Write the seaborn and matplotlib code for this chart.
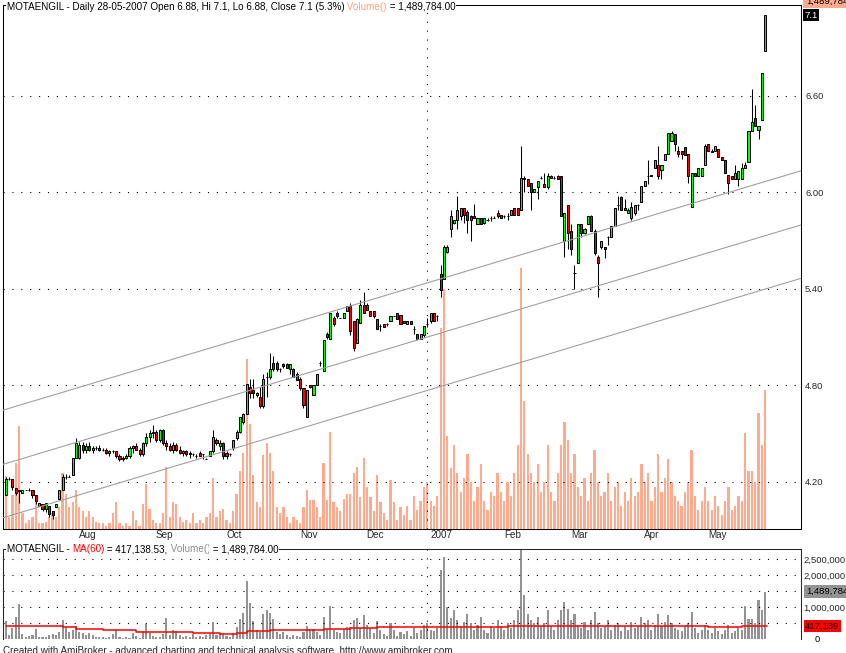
import matplotlib
matplotlib.use("Agg")
import matplotlib.pyplot as plt
import seaborn as sns
import numpy as np

# ---------------- data ----------------
opens = [
 4.12,4.22,4.22,4.16,4.15,4.13,4.15,4.15,4.15,4.12,4.05,4.06,4.03,4.05,4.02,4.04,4.09,4.15,4.23,4.23,4.24,
 4.35,4.35,4.43,4.40,4.42,4.40,4.41,4.41,4.40,4.40,4.38,4.39,4.39,4.36,4.34,4.35,4.36,4.41,4.42,4.40,4.37,4.44,4.48,
 4.50,4.51,4.46,4.52,4.44,4.42,4.40,4.43,4.40,4.38,4.39,4.37,4.37,4.36,4.38,4.37,4.34,4.36,4.39,4.46,4.42,
 4.44,4.38,4.37,4.41,4.47,4.51,4.57,4.62,4.79,4.77,4.74,4.73,4.67,4.85,4.85,4.94,4.94,4.90,4.93,4.93,4.90,4.90,
 4.87,4.84,4.78,4.60,4.80,4.74,4.80,4.94,4.89,5.12,5.09,5.22,5.25,5.22,5.22,5.26,5.29,5.20,5.06,5.19,
 5.30,5.30,5.26,5.26,5.21,5.17,5.18,5.18,5.20,5.23,5.25,5.24,5.20,5.18,5.20,5.15,5.12,5.09,5.11,
 5.18,5.20,5.25,5.23,5.49,5.46,5.63,5.77,5.81,5.83,5.85,5.90,5.88,5.85,5.85,5.80,5.84,5.81,5.83,5.84,5.84,5.87,
 5.86,5.85,5.85,5.86,5.90,5.90,5.89,6.09,6.08,6.06,6.00,6.03,6.09,6.05,6.03,6.10,6.09,6.10,6.10,5.70,
 5.92,5.76,5.50,5.56,5.80,5.75,5.80,5.85,5.76,5.60,5.66,5.66,5.72,5.72,5.79,5.92,5.97,5.90,5.87,5.84,5.87,5.92,
 5.94,6.04,6.10,6.11,6.15,6.17,6.14,6.20,6.24,6.32,6.36,6.26,6.26,6.28,6.24,5.91,6.12,6.10,6.10,
 6.17,6.30,6.26,6.26,6.27,6.22,6.20,6.11,6.10,6.08,6.08,6.08,6.15,6.19,6.38,6.46,6.39,6.45,6.88]
highs = [
 4.23,4.23,4.22,4.16,4.15,4.15,4.15,4.16,4.15,4.12,4.07,4.06,4.07,4.05,4.02,4.06,4.15,4.25,4.25,4.24,4.35,
 4.47,4.45,4.45,4.44,4.45,4.42,4.42,4.43,4.41,4.41,4.40,4.40,4.39,4.37,4.36,4.37,4.42,4.43,4.44,4.41,4.45,4.50,4.52,
 4.55,4.52,4.53,4.53,4.46,4.44,4.45,4.44,4.42,4.40,4.40,4.39,4.38,4.37,4.39,4.37,4.35,4.39,4.52,4.47,4.46,
 4.45,4.39,4.38,4.46,4.52,4.60,4.63,4.81,4.84,4.84,4.76,4.79,4.87,4.88,5.00,4.98,4.95,4.91,4.94,4.94,4.93,4.91,
 4.88,4.85,4.78,4.77,4.80,4.80,4.87,4.95,5.08,5.13,5.25,5.23,5.26,5.22,5.25,5.29,5.31,5.20,5.22,5.33,
 5.38,5.31,5.26,5.26,5.21,5.18,5.18,5.19,5.23,5.23,5.25,5.24,5.20,5.20,5.20,5.17,5.12,5.12,5.17,
 5.22,5.25,5.25,5.24,5.55,5.67,5.67,5.89,5.83,5.98,5.90,5.90,5.89,5.86,5.93,5.84,5.84,5.84,5.84,5.85,5.85,5.89,
 5.86,5.86,5.87,5.89,5.90,5.90,6.29,6.10,6.08,6.06,6.02,6.07,6.10,6.12,6.12,6.11,6.10,6.11,6.10,5.87,
 5.92,5.80,5.55,5.80,5.80,5.78,5.85,5.86,5.77,5.61,5.70,5.66,5.73,5.79,5.90,5.98,5.98,5.96,5.90,5.94,5.92,5.93,
 6.04,6.07,6.20,6.11,6.20,6.29,6.17,6.24,6.37,6.38,6.36,6.29,6.26,6.28,6.24,6.12,6.12,6.15,6.15,
 6.30,6.30,6.27,6.29,6.27,6.22,6.20,6.11,6.10,6.17,6.13,6.18,6.19,6.38,6.64,6.54,6.41,6.74,7.10]
lows = [
 4.12,4.21,4.15,4.12,4.07,4.13,4.15,4.14,4.10,4.06,4.05,4.02,4.01,3.98,3.97,4.04,4.09,4.15,4.22,4.23,4.24,
 4.35,4.34,4.38,4.38,4.39,4.38,4.40,4.39,4.39,4.37,4.36,4.38,4.35,4.33,4.33,4.34,4.35,4.38,4.40,4.36,4.36,4.42,4.45,
 4.47,4.45,4.45,4.43,4.40,4.39,4.38,4.39,4.37,4.36,4.36,4.35,4.36,4.35,4.36,4.34,4.34,4.36,4.38,4.43,4.40,
 4.34,4.34,4.36,4.40,4.46,4.50,4.56,4.62,4.72,4.72,4.73,4.66,4.66,4.73,4.84,4.89,4.89,4.88,4.91,4.91,4.87,4.85,
 4.83,4.77,4.66,4.60,4.78,4.74,4.80,4.92,4.89,5.09,5.09,5.17,5.22,5.22,5.22,5.26,5.11,5.01,5.06,5.19,
 5.25,5.27,5.23,5.22,5.15,5.14,5.16,5.17,5.20,5.23,5.21,5.18,5.19,5.18,5.18,5.12,5.09,5.09,5.10,
 5.16,5.19,5.20,5.20,5.35,5.46,5.62,5.72,5.80,5.77,5.83,5.81,5.75,5.70,5.84,5.80,5.80,5.80,5.82,5.82,5.84,5.84,
 5.84,5.84,5.83,5.86,5.86,5.86,5.89,6.00,6.04,5.89,6.00,5.96,6.08,6.03,6.02,6.09,6.08,6.08,5.85,5.60,
 5.65,5.61,5.40,5.56,5.72,5.74,5.80,5.76,5.61,5.35,5.65,5.59,5.67,5.72,5.79,5.89,5.89,5.89,5.87,5.83,5.86,5.89,
 5.94,6.04,6.05,6.10,6.15,6.08,6.08,6.20,6.24,6.32,6.26,6.22,6.21,6.23,6.06,5.91,6.10,6.10,6.10,
 6.17,6.26,6.25,6.26,6.22,6.20,6.12,5.99,6.08,6.08,6.04,6.08,6.15,6.19,6.38,6.41,6.33,6.45,6.88]
closes = [
 4.22,4.22,4.17,4.13,4.14,4.15,4.15,4.15,4.12,4.08,4.07,4.03,4.07,4.00,3.99,4.06,4.15,4.23,4.23,4.23,4.35,
 4.44,4.43,4.40,4.42,4.40,4.41,4.41,4.40,4.40,4.38,4.39,4.39,4.36,4.34,4.35,4.36,4.41,4.42,4.40,4.37,4.44,4.48,4.50,
 4.51,4.46,4.52,4.44,4.42,4.40,4.43,4.40,4.38,4.39,4.37,4.38,4.37,4.36,4.36,4.37,4.34,4.39,4.48,4.44,4.44,
 4.36,4.36,4.37,4.46,4.51,4.60,4.62,4.81,4.75,4.75,4.75,4.67,4.84,4.85,4.90,4.90,4.90,4.90,4.92,4.91,4.93,4.85,
 4.83,4.78,4.68,4.77,4.79,4.80,4.87,4.94,5.08,5.10,5.25,5.18,5.23,5.22,5.25,5.29,5.14,5.03,5.21,5.30,
 5.25,5.27,5.23,5.23,5.15,5.17,5.16,5.18,5.23,5.23,5.21,5.18,5.19,5.20,5.18,5.15,5.09,5.12,5.17,
 5.18,5.25,5.20,5.23,5.39,5.66,5.66,5.85,5.83,5.89,5.90,5.86,5.83,5.83,5.84,5.84,5.80,5.84,5.83,5.84,5.84,5.85,
 5.84,5.85,5.85,5.89,5.86,5.86,6.09,6.08,6.04,6.00,6.02,6.07,6.09,6.03,6.10,6.09,6.09,6.08,5.85,5.87,
 5.75,5.65,5.50,5.80,5.75,5.77,5.85,5.76,5.62,5.56,5.70,5.65,5.72,5.79,5.90,5.92,5.89,5.89,5.89,5.91,5.92,5.92,
 6.04,6.07,6.10,6.10,6.20,6.10,6.17,6.24,6.37,6.37,6.30,6.24,6.24,6.23,6.10,6.12,6.10,6.15,6.15,
 6.29,6.26,6.25,6.29,6.22,6.20,6.12,6.06,6.08,6.12,6.13,6.15,6.17,6.38,6.44,6.41,6.41,6.74,7.10]
# volume in millions of shares
volumes_m = [
 0.57,0.13,0.36,0.71,1.10,0.17,0.06,0.10,0.13,0.31,0.06,0.06,0.08,0.13,0.17,0.13,0.24,0.60,0.37,0.24,0.29,
 0.42,0.24,0.19,0.13,0.19,0.13,0.08,0.06,0.06,0.03,0.06,0.17,0.29,0.06,0.03,0.06,0.03,0.19,0.10,0.03,0.27,0.48,0.21,
 0.10,0.06,0.06,0.17,0.66,0.13,0.29,0.27,0.13,0.08,0.10,0.06,0.17,0.06,0.10,0.06,0.13,0.17,0.55,0.13,0.19,
 0.21,0.10,0.06,0.19,0.37,0.62,0.81,1.82,1.12,0.58,0.29,0.24,0.79,0.92,0.81,0.62,0.24,0.17,0.24,0.13,0.06,0.13,
 0.10,0.06,0.24,0.42,0.31,0.31,0.24,0.13,0.71,0.31,1.04,0.29,0.24,0.19,0.32,0.37,0.37,0.60,0.66,0.34,
 0.76,0.45,0.34,0.19,0.58,0.29,0.17,0.10,0.52,0.29,0.10,0.24,0.15,0.25,0.10,0.35,0.20,0.30,0.45,
 0.50,0.30,0.25,0.35,2.15,2.57,1.00,0.65,0.90,0.60,0.40,0.55,0.80,0.50,0.30,0.45,0.70,0.30,0.20,0.40,0.35,0.60,
 0.40,0.30,0.50,0.35,0.60,0.90,2.80,1.37,0.80,0.60,0.50,0.70,0.40,0.50,0.90,0.40,0.30,0.60,0.90,1.15,
 0.95,0.60,0.80,0.45,0.35,0.55,0.30,0.60,0.85,0.50,0.35,0.40,0.60,0.30,0.45,0.50,0.25,0.40,0.30,0.55,0.35,0.40,
 0.70,0.50,0.60,0.30,0.45,0.80,0.40,0.55,0.75,0.50,0.35,0.30,0.25,0.40,0.50,0.85,0.35,0.20,0.30,
 0.45,0.30,0.20,0.35,0.25,0.15,0.30,0.45,0.20,0.25,0.35,0.30,1.03,0.62,0.62,0.50,1.24,0.90,1.49]
# MA(60) of volume, read as levels starting at the given bar
ma_start = [0, 17, 21, 29, 39, 56, 64, 69, 72, 79, 95, 103, 111, 119, 150, 190, 210, 220]
ma_level_m = [0.42, 0.375, 0.32, 0.29, 0.23, 0.20, 0.155, 0.185, 0.25, 0.29, 0.32, 0.35, 0.38, 0.38, 0.42, 0.40, 0.38, 0.417]

month_labels = ['Aug', 'Sep', 'Oct', 'Nov', 'Dec', '2007', 'Feb', 'Mar', 'Apr', 'May']
month_first_bar = [21, 44, 65, 87, 107, 126, 148, 168, 190, 209]
price_ticks = [4.20, 4.80, 5.40, 6.00, 6.60]
vol_grid = [500000, 1000000, 1500000, 2000000, 2500000]
vol_labels_at = [1000000, 2000000, 2500000]
# parallel trend channel (bar index / price at the two ends)
chan_x = [-0.81, 237.7]
chan_upper = [4.645, 6.134]
chan_mid = [4.308, 5.797]
chan_lower = [3.976, 5.465]

# ---------------- figure ----------------
sns.set_style("white")
plt.rcParams['font.family'] = ['Liberation Sans', 'DejaVu Sans']
plt.rcParams['axes.linewidth'] = 0.75

W, H = 846, 653
fig = plt.figure(figsize=(W / 100, H / 100), dpi=100, facecolor='white')

def box(l, t, r, b):
    return [l / W, 1 - b / H, (r - l) / W, (b - t) / H]

FS = 7.1
LFS = 6.8
DOT = (0, (1, 7))
XLIM = (-0.81, 237.7)

n = len(closes)
x = np.arange(n)
o = np.array(opens); h = np.array(highs); l = np.array(lows); c = np.array(closes)
vol = np.array(volumes_m) * 1e6

# ---- main panel ----
ax = fig.add_axes(box(3, 5, 801, 529))
axv = ax.twinx()
ax.set_zorder(3); axv.set_zorder(2); ax.patch.set_visible(False)

axv.bar(x, vol, width=0.66, color='#FFAA8C', linewidth=0)
axv.set_ylim(0, 5.615e6)
axv.set_yticks([])
for s in axv.spines.values():
    s.set_visible(False)

ax.set_xlim(*XLIM)
ax.set_ylim(3.906, 7.165)
ax.hlines(price_ticks, XLIM[0], XLIM[1], colors='black', linestyles=DOT, lw=0.8, zorder=1)
ax.axvline(126, color='black', linestyle=DOT, lw=0.8, zorder=1)

ax.vlines(x, l, h, color='black', lw=0.75, zorder=2)
col = np.where(c > o, '#00FF00', np.where(c < o, '#FF0000', 'black'))
ax.bar(x, np.abs(c - o), bottom=np.minimum(o, c), width=0.62, color=col,
       edgecolor='black', linewidth=0.72, zorder=3)

for yy in (chan_upper, chan_mid, chan_lower):
    sns.lineplot(x=chan_x, y=yy, ax=ax, color='#A0A0A0', lw=0.8, zorder=4)

ax.yaxis.tick_right()
ax.set_yticks(price_ticks)
ax.set_yticklabels(['%.2f' % v for v in price_ticks], fontsize=LFS)
ax.tick_params(axis='y', length=0, pad=3)
ax.set_xticks(month_first_bar)
ax.tick_params(axis='x', length=3.6, width=0.75, direction='out', labelbottom=False)
for pos, lab in zip(month_first_bar, month_labels):
    ax.annotate(lab, xy=(pos, 0), xycoords=('data', 'axes fraction'), xytext=(3, -1.5),
                textcoords='offset pixels', ha='left', va='top', fontsize=FS)
for s in ax.spines.values():
    s.set_color('black')

# ---- lower panel ----
ax2 = fig.add_axes(box(3, 549, 801, 639.3))
ax2.bar(x, vol, width=0.62, color='#939393', linewidth=0)
ma_x = list(ma_start) + [n - 0.5]
ma_y = list(np.array(ma_level_m) * 1e6) + [ma_level_m[-1] * 1e6]
ax2.step(ma_x, ma_y, where='post', color='#FF0000', lw=1.1, zorder=3)
ax2.set_xlim(*XLIM)
ax2.set_ylim(0, 2.82e6)
ax2.hlines([0] + vol_grid, XLIM[0], XLIM[1], colors='black', linestyles=DOT, lw=0.8, zorder=1)
ax2.axvline(126, color='black', linestyle=DOT, lw=0.8, zorder=1)
ax2.set_xticks([])
ax2.yaxis.tick_right()
ax2.set_yticks(vol_labels_at)
ax2.set_yticklabels(['{:,}'.format(v) for v in vol_labels_at], fontsize=LFS)
ax2.tick_params(axis='y', length=0, pad=1.6)
ax2.spines['bottom'].set_visible(False)

# ---- texts ----
renderer = fig.canvas.get_renderer()

def seq_text(x_px, y_px, parts, size):
    xx = x_px
    for s, colr in parts:
        t = fig.text(xx / W, 1 - y_px / H, s, color=colr, fontsize=size, ha='left', va='center',
                     bbox=dict(facecolor='white', edgecolor='none', pad=0.4), zorder=10)
        bb = t.get_window_extent(renderer=renderer)
        xx += bb.width

seq_text(6.5, 6.5, [("MOTAENGIL - Daily 28-05-2007 Open 6.88, Hi 7.1, Lo 6.88, Close 7.1 (5.3%)", 'black'),
                    (" Volume()", '#FFA07A'), (" = 1,489,784.00", 'black')], FS)
seq_text(6.5, 549, [("MOTAENGIL - ", 'black'), ("MA(60)", '#FF0000'), (" = 417,138.53,", 'black'),
                    (" Volume()", '#8C8C8C'), (" = 1,489,784.00", 'black')], FS)

fig.text(3 / W, 1 - 646.5 / H,
         "Created with AmiBroker - advanced charting and technical analysis software. http://www.amibroker.com",
         fontsize=FS, ha='left', va='top')

# value markers on the right
fig.text(804 / W, 1 - 15.4 / H, "7.1", color='white', fontsize=LFS, ha='left', va='center',
         bbox=dict(facecolor='black', edgecolor='none', pad=1.0))
fig.text(806 / W, 1 - 1.0 / H, "1,489,784", color='black', fontsize=LFS, ha='left', va='center',
         bbox=dict(facecolor='#FFAA8C', edgecolor='none', pad=2.0))
fig.text(806 / W, 1 - 591.6 / H, "1,489,784", color='black', fontsize=LFS, ha='left', va='center',
         bbox=dict(facecolor='#939393', edgecolor='none', pad=1.5))
fig.text(805 / W, 1 - 626 / H, "417,139", color='black', fontsize=LFS, ha='left', va='center',
         bbox=dict(facecolor='#FF0000', edgecolor='none', pad=1.0))
fig.text(817 / W, 1 - 639 / H, "0", color='black', fontsize=LFS, ha='center', va='center')

fig.savefig("out.png", dpi=100, facecolor='white')
